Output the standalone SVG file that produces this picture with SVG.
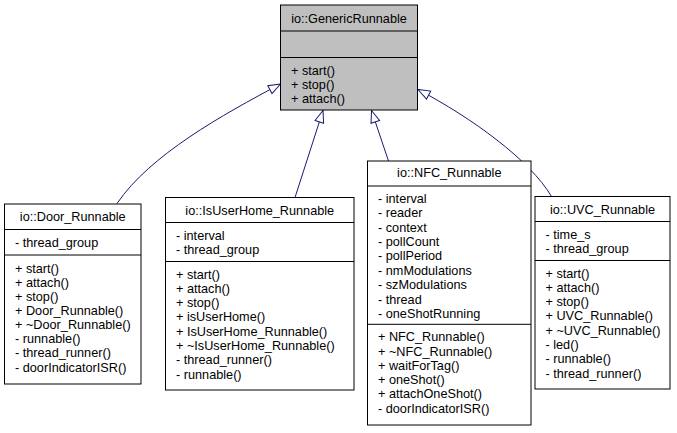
<svg xmlns="http://www.w3.org/2000/svg" width="677" height="433" viewBox="0 0 677 433">
<defs>
<style>
.box{fill:#ffffff;stroke:#000000;stroke-width:1}
.base{fill:#bfbfbf;stroke:#000000;stroke-width:1}
.sep{stroke:#000000;stroke-width:1;fill:none}
text{font-family:"Liberation Sans",Arial,Helvetica,sans-serif;font-size:12.7px;fill:#000000}
.t{text-anchor:middle}
.edge{fill:none;stroke:#191970;stroke-width:1}
</style>
<marker id="inh" markerUnits="userSpaceOnUse" viewBox="-13 -6 14 12" refX="0" refY="0" markerWidth="14" markerHeight="12" orient="auto">
<path d="M0,0 L-12,-4.5 L-12,4.5 Z" fill="#ffffff" stroke="#191970" stroke-width="1"/>
</marker>
</defs>
<rect width="677" height="433" fill="#ffffff"/>
<g id="connectors">
<path class="edge" d="M117,203.5 C150,155 222,115 280.5,84" marker-end="url(#inh)"/>
<path class="edge" d="M295,197.5 L323,110.5" marker-end="url(#inh)"/>
<path class="edge" d="M388.5,161 L371.5,110.5" marker-end="url(#inh)"/>
<path class="edge" d="M551.5,196.5 C530,160 472,118 418,89.5" marker-end="url(#inh)"/>
</g>
<g id="GenericRunnable">
<rect class="base" x="280.5" y="5" width="137" height="105"/>
<line class="sep" x1="280.5" y1="31" x2="417.5" y2="31"/>
<line class="sep" x1="280.5" y1="57.5" x2="417.5" y2="57.5"/>
<text class="t" x="349" y="22.5">io::GenericRunnable</text>
<text x="291" y="74.5">+ start()</text>
<text x="291" y="88.7">+ stop()</text>
<text x="291" y="102.9">+ attach()</text>
</g>
<g id="Door_Runnable">
<rect class="box" x="4.5" y="204" width="136.5" height="180"/>
<line class="sep" x1="4.5" y1="229.5" x2="141" y2="229.5"/>
<line class="sep" x1="4.5" y1="255" x2="141" y2="255"/>
<text class="t" x="72.75" y="221.2">io::Door_Runnable</text>
<text x="15" y="246.8">- thread_group</text>
<text x="15" y="272.8">+ start()</text>
<text x="15" y="286.9">+ attach()</text>
<text x="15" y="301">+ stop()</text>
<text x="15" y="315.1">+ Door_Runnable()</text>
<text x="15" y="329.2">+ ~Door_Runnable()</text>
<text x="15" y="343.3">- runnable()</text>
<text x="15" y="357.4">- thread_runner()</text>
<text x="15" y="371.5">- doorIndicatorISR()</text>
</g>
<g id="IsUserHome_Runnable">
<rect class="box" x="165.5" y="197.5" width="188.5" height="192.5"/>
<line class="sep" x1="165.5" y1="222.5" x2="354" y2="222.5"/>
<line class="sep" x1="165.5" y1="261.5" x2="354" y2="261.5"/>
<text class="t" x="259.75" y="214.5">io::IsUserHome_Runnable</text>
<text x="176" y="239.5">- interval</text>
<text x="176" y="253.8">- thread_group</text>
<text x="176" y="278.5">+ start()</text>
<text x="176" y="292.8">+ attach()</text>
<text x="176" y="307.1">+ stop()</text>
<text x="176" y="321.4">+ isUserHome()</text>
<text x="176" y="335.7">+ IsUserHome_Runnable()</text>
<text x="176" y="350">+ ~IsUserHome_Runnable()</text>
<text x="176" y="364.3">- thread_runner()</text>
<text x="176" y="378.6">- runnable()</text>
</g>
<g id="NFC_Runnable">
<rect class="box" x="367.5" y="161" width="163.5" height="264"/>
<line class="sep" x1="367.5" y1="186" x2="531" y2="186"/>
<line class="sep" x1="367.5" y1="324.3" x2="531" y2="324.3"/>
<text class="t" x="449.25" y="176.8">io::NFC_Runnable</text>
<text x="378" y="202.8">- interval</text>
<text x="378" y="217.2">- reader</text>
<text x="378" y="231.6">- context</text>
<text x="378" y="246">- pollCount</text>
<text x="378" y="260.4">- pollPeriod</text>
<text x="378" y="274.8">- nmModulations</text>
<text x="378" y="289.2">- szModulations</text>
<text x="378" y="303.6">- thread</text>
<text x="378" y="318">- oneShotRunning</text>
<text x="378" y="341.2">+ NFC_Runnable()</text>
<text x="378" y="355.5">+ ~NFC_Runnable()</text>
<text x="378" y="369.8">+ waitForTag()</text>
<text x="378" y="384.1">+ oneShot()</text>
<text x="378" y="398.4">+ attachOneShot()</text>
<text x="378" y="412.7">- doorIndicatorISR()</text>
</g>
<g id="UVC_Runnable">
<rect class="box" x="535" y="196.5" width="135" height="192.5"/>
<line class="sep" x1="535" y1="221.5" x2="670" y2="221.5"/>
<line class="sep" x1="535" y1="260.5" x2="670" y2="260.5"/>
<text class="t" x="602.5" y="213.5">io::UVC_Runnable</text>
<text x="545.5" y="238.5">- time_s</text>
<text x="545.5" y="252.8">- thread_group</text>
<text x="545.5" y="277.5">+ start()</text>
<text x="545.5" y="291.8">+ attach()</text>
<text x="545.5" y="306.1">+ stop()</text>
<text x="545.5" y="320.4">+ UVC_Runnable()</text>
<text x="545.5" y="334.7">+ ~UVC_Runnable()</text>
<text x="545.5" y="349">- led()</text>
<text x="545.5" y="363.3">- runnable()</text>
<text x="545.5" y="377.6">- thread_runner()</text>
</g>
</svg>
